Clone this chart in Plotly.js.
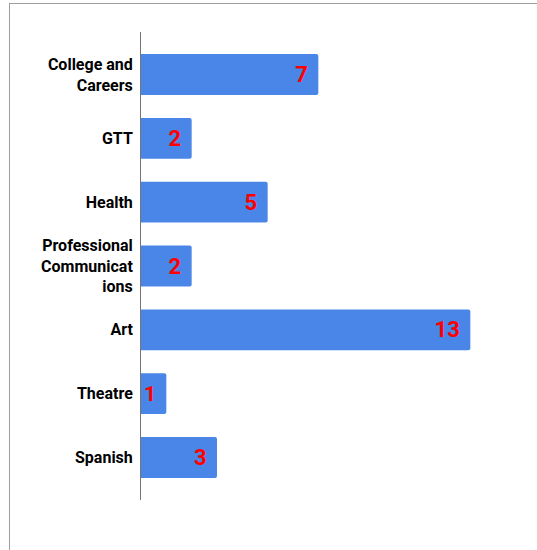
<!DOCTYPE html>
<html>
<head>
<meta charset="utf-8">
<script src="https://cdn.plot.ly/plotly-3.0.1.min.js"></script>
<style>
html,body{margin:0;padding:0;background:#fff;}
#wrap{position:relative;width:537px;height:550px;overflow:hidden;}
#frame{position:absolute;left:9px;top:3px;width:540px;height:560px;border-top:1px solid #9e9e9e;border-left:1px solid #9e9e9e;pointer-events:none;}
#chart{position:absolute;left:0;top:0;width:537px;height:550px;}
</style>
</head>
<body>
<div id="wrap">
<div id="chart"></div>
<div id="frame"></div>
</div>
<script>
const categories = ["College and Careers", "GTT", "Health", "Professional Communications", "Art", "Theatre", "Spanish"];
const tickLabels = ["College and<br>Careers", "GTT", "Health", "Professional<br>Communicat<br>ions", "Art", "Theatre", "Spanish"];
const counts = [7, 2, 5, 2, 13, 1, 3];

const trace = {
  type: 'bar',
  orientation: 'h',
  y: categories,
  x: counts,
  texttemplate: '%{x}\u2004',
  textposition: 'inside',
  insidetextanchor: 'end',
  textangle: 0,
  textfont: {family: 'Roboto, sans-serif', size: 22, color: '#ff0000', weight: 'bold'},
  marker: {color: '#4a86e8', cornerradius: 2, line: {width: 0}},
  width: 0.64,
  hoverinfo: 'none',
  cliponaxis: false
};

const layout = {
  width: 537, height: 550,
  margin: {l: 141, r: 16, t: 32, b: 50, pad: 0},
  paper_bgcolor: '#ffffff', plot_bgcolor: '#ffffff',
  showlegend: false,
  font: {family: 'Roboto, sans-serif', color: '#000000'},
  xaxis: {range: [0, 15], showgrid: false, zeroline: false, showticklabels: false, ticks: '', showline: false, fixedrange: true},
  yaxis: {
    type: 'category', range: [6.666, -0.666],
    tickmode: 'array', tickvals: categories, ticktext: tickLabels,
    tickfont: {family: 'Roboto, sans-serif', size: 16, color: '#000000', weight: 'bold'},
    showline: true, linecolor: '#757575', linewidth: 1,
    showgrid: false, zeroline: false, ticks: '', ticklabelstandoff: 4, fixedrange: true
  },
  uniformtext: {mode: false}
};

Plotly.newPlot('chart', [trace], layout, {displayModeBar: false, staticPlot: true});
</script>
</body>
</html>
